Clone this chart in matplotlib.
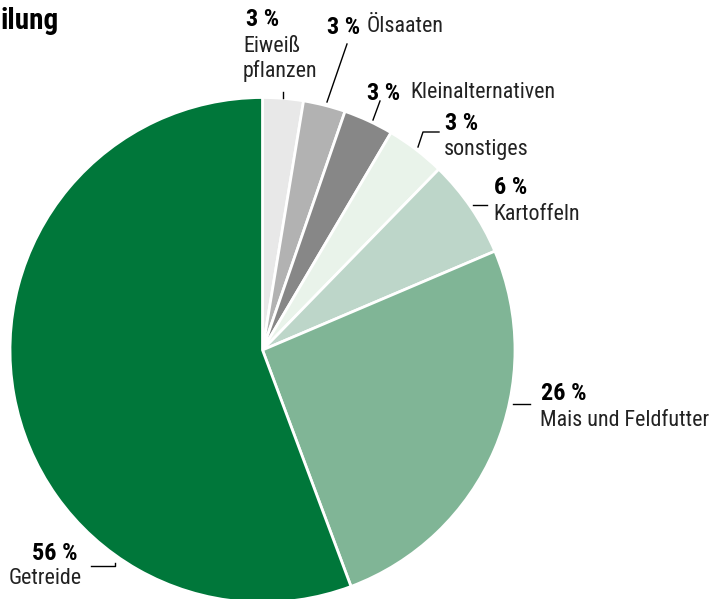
import matplotlib.pyplot as plt

plt.rcParams['font.family'] = ['Roboto Condensed', 'Roboto', 'DejaVu Sans']

# slice shares, labels and printed percents
names = ["Eiweiß\npflanzen", "Ölsaaten", "Kleinalternativen", "sonstiges",
         "Kartoffeln", "Mais und Feldfutter", "Getreide"]
shares = [2.6, 2.7, 3.2, 3.8, 6.3, 25.7, 55.7]
pct_labels = ["3 %", "3 %", "3 %", "3 %", "6 %", "26 %", "56 %"]
colors = ["#e8e8e8", "#b2b2b2", "#878787", "#e9f3ea", "#bdd6c9", "#80b596", "#00773a"]

W, H = 714, 599
fig = plt.figure(figsize=(W / 100, H / 100), dpi=100)
ax = fig.add_axes([0, 0, 1, 1])

cx, cy, r = 262.5, H - 350, 252.5
ax.pie(shares, colors=colors, startangle=90, counterclock=False,
       center=(cx, cy), radius=r, frame=True,
       wedgeprops=dict(edgecolor="white", linewidth=2))
ax.set_xlim(0, W)
ax.set_ylim(0, H)
ax.set_aspect("equal")
ax.axis("off")


def y(v):
    return H - v


fs = 15.8
kw_b = dict(fontsize=17.5, fontweight="bold", color="black", va="center")
kw_n = dict(fontsize=fs, color="#222222", va="center")

# title (only its end is visible in the original)
ax.text(0, y(21), "ilung", fontsize=21, fontweight="bold",
        ha="left", va="center")

# Eiweißpflanzen
ax.text(246, y(20), pct_labels[0], ha="left", **kw_b)
ax.text(243, y(46), "Eiweiß", ha="left", **kw_n)
ax.text(243, y(71), "pflanzen", ha="left", **kw_n)
ax.plot([283, 283], [y(92), y(98)], color="black", lw=1)

# Ölsaaten
ax.text(327, y(27), pct_labels[1], ha="left", **kw_b)
ax.text(367, y(27), names[1], ha="left", **kw_n)
ax.plot([327, 347], [y(102), y(44)], color="black", lw=1)

# Kleinalternativen
ax.text(367, y(93), pct_labels[2], ha="left", **kw_b)
ax.text(410, y(93), names[2], ha="left", **kw_n)
ax.plot([373, 380], [y(120), y(101)], color="black", lw=1)

# sonstiges
ax.text(445, y(124), pct_labels[3], ha="left", **kw_b)
ax.text(444, y(150), names[3], ha="left", **kw_n)
ax.plot([418, 423, 439], [y(147), y(132), y(132)], color="black", lw=1)

# Kartoffeln
ax.text(494, y(188), pct_labels[4], ha="left", **kw_b)
ax.text(493, y(214), names[4], ha="left", **kw_n)
ax.plot([473, 487], [y(205), y(205)], color="black", lw=1)

# Mais und Feldfutter
ax.text(541, y(394), pct_labels[5], ha="left", **kw_b)
ax.text(540, y(420), names[5], ha="left", **kw_n)
ax.plot([513, 530], [y(404), y(404)], color="black", lw=1)

# Getreide
ax.text(78, y(553), pct_labels[6], ha="right", **kw_b)
ax.text(9, y(578), names[6], ha="left", **kw_n)
ax.plot([91, 115, 115], [y(566), y(566), y(563)], color="black", lw=1)

fig.savefig("out.png", dpi=100)
